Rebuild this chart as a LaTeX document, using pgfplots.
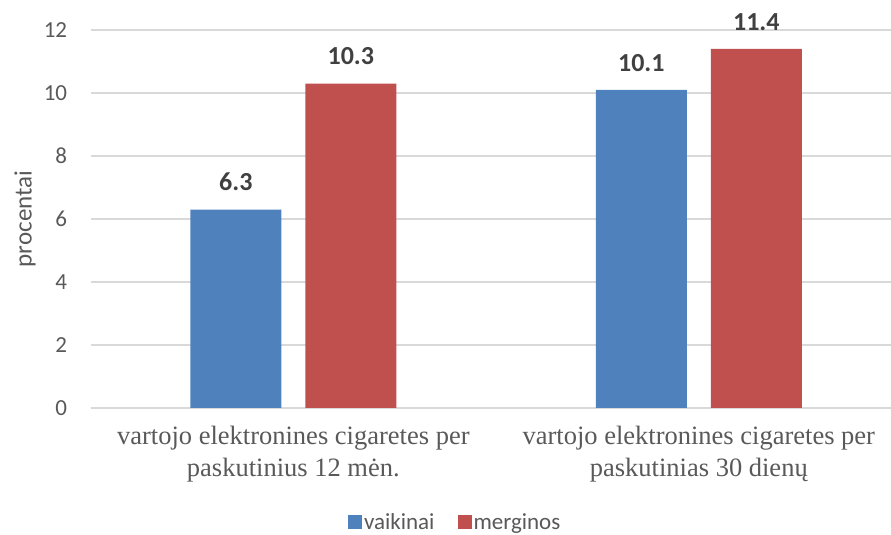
\documentclass[border=0pt]{standalone}
\usepackage{fontspec}
\setmainfont{Carlito}
\newfontfamily\serifx{Liberation Serif}
\usepackage{pgfplots}
\pgfplotsset{compat=1.18}
\definecolor{cblue}{HTML}{4F81BD}
\definecolor{cred}{HTML}{C0504D}
\definecolor{cgrid}{HTML}{D9D9D9}
\definecolor{ctext}{HTML}{595959}
\definecolor{clab}{HTML}{404040}
\begin{document}
\begin{tikzpicture}[x=1pt,y=1pt]
\useasboundingbox (0,0) rectangle (891,535);
\begin{axis}[
  at={(90.6pt,127pt)}, anchor=south west,
  scale only axis, width=800.4pt, height=378pt,
  xmin=-0.5, xmax=1.474, ymin=0, ymax=12,
  ytick={0,2,...,12},
  xtick={0,1},
  xticklabels={{vartojo elektronines cigaretes per\\paskutinius 12 mėn.},{vartojo elektronines cigaretes per\\paskutinias 30 dienų}},
  x tick label style={font=\serifx\fontsize{26.5}{32}\selectfont, text=ctext, align=center, yshift=-15pt},
  y tick label style={font=\fontsize{23}{26}\selectfont, text=ctext, xshift=-20pt},
  /pgf/number format/assume math mode=true,
  ymajorgrids, grid style={cgrid, line width=1.2pt},
  axis x line*=bottom, axis y line*=left,
  y axis line style={draw=none},
  x axis line style={cgrid, line width=1.2pt},
  major tick length=0pt,
  ylabel={procentai},
  every axis y label/.style={at={(axis description cs:-0.082,0.5)}, rotate=90, anchor=center, font=\fontsize{25}{28}\selectfont, text=ctext},
  ybar, bar width=91pt,
  nodes near coords,
  every node near coord/.append style={font=\bfseries\fontsize{26}{30}\selectfont, text=clab, yshift=15pt},
  legend columns=2,
  legend style={at={(0.4555,-0.302)}, anchor=center, draw=none, font=\fontsize{23}{26}\selectfont, text=ctext, inner sep=0pt, /tikz/every even column/.append style={column sep=21pt}, /tikz/every odd column/.append style={column sep=0pt}},
  legend image code/.code={\fill[#1] (0pt,-7pt) rectangle (14pt,7pt);},
]
\addplot[fill=cblue, draw=none, bar shift=-57.5pt] coordinates {(0,6.3) (1,10.1)};
\addplot[fill=cred, draw=none, bar shift=57.5pt] coordinates {(0,10.3) (1,11.4)};
\legend{vaikinai, merginos}
\end{axis}
\end{tikzpicture}
\end{document}
